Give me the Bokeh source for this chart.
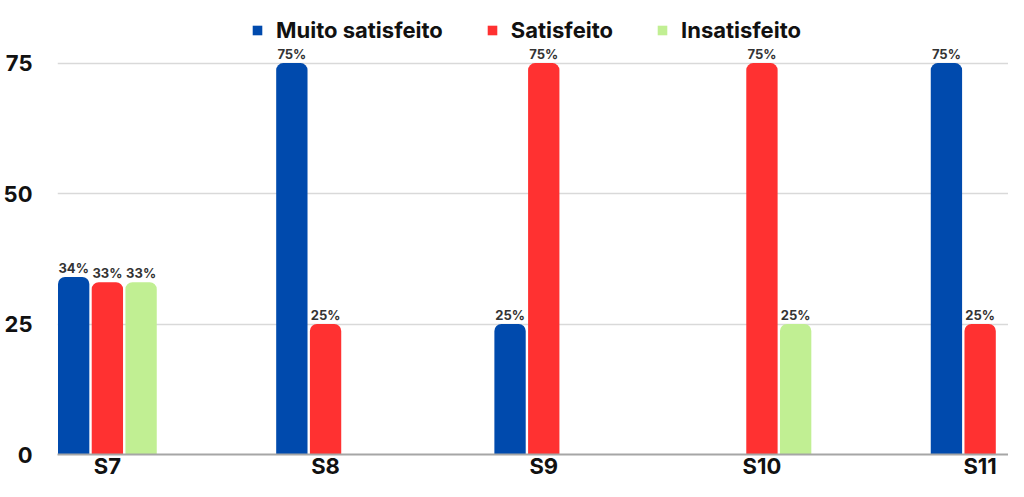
from bokeh.plotting import figure
from bokeh.models import (ColumnDataSource, FixedTicker, Range1d, Legend, LegendItem, LabelSet)
from bokeh.core.properties import value
from bokeh.embed import file_html
from bokeh.resources import INLINE

categories = ["S7", "S8", "S9", "S10", "S11"]
series_names = ["Muito satisfeito", "Satisfeito", "Insatisfeito"]
muito_satisfeito = [34, 75, 25, 0, 75]
satisfeito = [33, 25, 75, 75, 25]
insatisfeito = [33, 0, 0, 25, 0]
colors = ["#004AAD", "#FF3131", "#C1EF93"]
y_ticks = [0, 25, 50, 75]

FONT = "Inter"

p = figure(width=1008, height=481, output_backend="svg", toolbar_location=None,
           x_range=Range1d(-0.2286, 4.130), y_range=Range1d(0, 87),
           min_border_left=49, min_border_right=0, min_border_top=0, min_border_bottom=0)
p.outline_line_color = None
p.background_fill_color = "white"

xs = list(range(len(categories)))
offsets = [-0.1545, 0.0, 0.1545]
all_series = [muito_satisfeito, satisfeito, insatisfeito]
renderers = []
for name, vals, off, col in zip(series_names, all_series, offsets, colors):
    src = ColumnDataSource(dict(x=[x + off for x in xs], top=vals,
                                lab=[f"{v}%" if v > 0 else "" for v in vals]))
    r = p.vbar(x="x", top="top", bottom=0, width=0.1436, source=src,
               fill_color=col, line_color=None, border_radius=[7, 7, 0, 0])
    renderers.append(r)
    ls = LabelSet(x="x", y="top", text="lab", source=src, text_align="center",
                  text_baseline="alphabetic", y_offset=4, text_font=value(FONT),
                  text_font_size=value("13px"), text_font_style=value("bold"),
                  text_color=value("#333333"))
    p.add_layout(ls)

# axes
p.xaxis.ticker = FixedTicker(ticks=xs)
p.xaxis.major_label_overrides = {i: c for i, c in enumerate(categories)}
p.xaxis.major_tick_line_color = None
p.xaxis.minor_tick_line_color = None
p.xaxis.major_tick_out = 0
p.xaxis.axis_line_color = "#a6a6a6"
p.xaxis.axis_line_width = 2
p.xaxis.major_label_standoff = -2
p.xaxis.major_label_text_line_height = 1.0
p.xaxis.major_label_text_font = FONT
p.xaxis.major_label_text_font_size = "22px"
p.xaxis.major_label_text_font_style = "bold"
p.xaxis.major_label_text_color = "#111111"

p.yaxis.ticker = FixedTicker(ticks=y_ticks)
p.yaxis.major_tick_line_color = None
p.yaxis.minor_tick_line_color = None
p.yaxis.axis_line_color = None
p.yaxis.major_label_standoff = 19
p.yaxis.major_label_text_font = FONT
p.yaxis.major_label_text_font_size = "22px"
p.yaxis.major_label_text_font_style = "bold"
p.yaxis.major_label_text_color = "#111111"

p.xgrid.grid_line_color = None
p.ygrid.ticker = FixedTicker(ticks=y_ticks[1:])
p.ygrid.grid_line_color = "#d9d9d9"
p.ygrid.grid_line_width = 1.5

legend = Legend(items=[LegendItem(label=n, renderers=[r]) for n, r in zip(series_names, renderers)],
                orientation="horizontal", location=(194, 411),
                glyph_width=12, glyph_height=12, label_standoff=13, spacing=43,
                label_text_font=FONT, label_text_font_size="22px", label_text_color="#111111",
                label_text_font_style="bold",
                label_height=22, padding=0, margin=0,
                border_line_color=None, background_fill_alpha=0)
p.add_layout(legend, "center")

open("out.html", "w").write(file_html(p, INLINE))
